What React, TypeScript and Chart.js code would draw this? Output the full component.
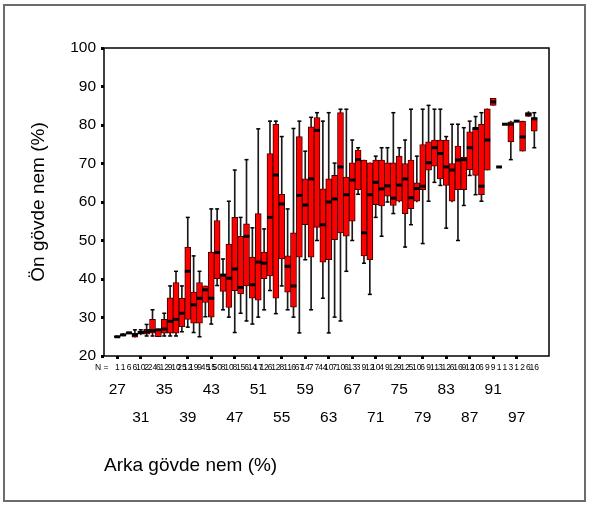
import React, { useEffect, useRef } from 'react';
import { Chart, registerables } from 'chart.js';

Chart.register(...registerables);

// Category values (Arka gövde nem %)
const categories = [
  27, 28, 29, 30, 31, 32, 33, 34, 35, 36, 37, 38, 39, 40, 41, 42, 43, 44, 45, 46,
  47, 48, 49, 50, 51, 52, 53, 54, 55, 56, 57, 58, 59, 60, 61, 62, 63, 64, 65, 66,
  67, 68, 69, 70, 71, 72, 73, 74, 75, 76, 77, 78, 79, 80, 81, 82, 83, 84, 85, 86,
  87, 88, 89, 90, 91, 92, 93, 95, 97, 98, 99, 100,
];

// Group sizes (N = ...)
const nCounts = [
  1, 1, 6, 6, 10, 2, 24, 6, 12, 9,
  10, 25, 12, 19, 9, 45, 15, 50, 8, 10,
  8, 15, 6, 14, 17, 12, 6, 12, 8, 11,
  6, 67, 14, 7, 7, 44, 10, 7, 10, 6,
  13, 3, 9, 12, 10, 4, 9, 12, 9, 12,
  5, 10, 6, 9, 11, 3, 12, 6, 16, 9,
  12, 10, 6, 9, 9, 1, 1, 3, 1, 2, 6, 16,
];

// Box plot statistics (Ön gövde nem %)
const mins = [
  24.8, 25.2, 25.8, 24.9, 25.5, 25.2, 25.2, 25.0, 25.2, 25.2,
  25.2, 26.3, 27.5, 26.1, 25.0, 30.2, 28.3, 38.3, 32.0, 30.1,
  26.1, 31.1, 29.1, 28.3, 30.1, 32.0, 37.0, 31.0, 38.2, 32.0,
  30.1, 26.0, 45.0, 32.0, 50.0, 35.0, 26.0, 30.1, 29.1, 42.0,
  50.0, 62.0, 44.1, 36.0, 56.0, 51.1, 60.0, 57.0, 60.0, 48.3,
  54.1, 60.0, 49.2, 60.2, 65.1, 64.3, 53.2, 60.0, 50.0, 59.1,
  66.9, 61.9, 60.2, 68.3, 85.1, 69.1, 80.2, 71.0, 81.0, 73.2, 82.2, 74.1,
];
const q1s = [
  24.9, 25.2, 25.9, 24.9, 25.7, 25.7, 25.9, 25.0, 25.9, 25.9,
  25.9, 27.6, 29.5, 28.5, 28.5, 33.9, 30.1, 40.1, 36.8, 32.6,
  37.0, 36.1, 38.2, 35.0, 34.5, 40.1, 40.8, 35.0, 45.2, 36.6,
  32.7, 45.7, 54.1, 45.7, 53.4, 44.4, 45.0, 50.2, 52.0, 51.1,
  55.0, 63.2, 46.0, 45.0, 59.3, 59.0, 61.5, 59.1, 60.2, 57.0,
  58.3, 60.2, 63.2, 68.3, 69.3, 66.0, 64.3, 60.2, 63.2, 63.2,
  68.4, 66.9, 61.9, 68.3, 85.1, 69.1, 80.2, 75.6, 81.0, 73.2, 82.2, 78.4,
];
const medians = [
  25.0, 25.5, 26.0, 25.5, 26.1, 26.3, 26.6, 26.8, 27.0, 29.0,
  29.5, 31.1, 42.0, 33.3, 35.0, 37.2, 35.0, 46.9, 41.0, 40.2,
  42.6, 37.8, 51.1, 38.5, 44.4, 44.1, 56.0, 67.0, 59.5, 43.3,
  38.2, 61.7, 59.2, 66.0, 78.6, 54.1, 60.0, 60.8, 69.1, 61.9,
  65.7, 71.0, 52.0, 61.9, 65.1, 63.4, 64.2, 61.0, 64.4, 66.0,
  61.1, 63.5, 64.1, 70.2, 74.1, 72.6, 69.1, 68.3, 70.9, 71.0,
  74.1, 79.1, 64.1, 76.1, 86.0, 69.1, 80.2, 80.2, 81.0, 76.9, 82.8, 81.6,
];
const q3s = [
  25.1, 25.7, 26.2, 25.9, 26.4, 26.9, 29.5, 26.9, 29.5, 35.1,
  39.1, 35.0, 48.3, 36.6, 39.1, 38.2, 47.0, 55.2, 41.3, 49.1,
  56.0, 51.1, 54.3, 45.7, 57.0, 47.0, 72.6, 80.2, 62.0, 46.0,
  52.0, 77.0, 66.0, 79.5, 81.9, 63.4, 66.0, 66.9, 83.2, 66.5,
  70.2, 73.5, 70.9, 70.2, 70.9, 70.9, 70.2, 70.2, 71.9, 70.0,
  70.9, 65.0, 74.9, 75.6, 76.1, 76.1, 76.1, 70.0, 74.5, 71.7,
  78.2, 79.3, 80.2, 84.2, 86.9, 69.1, 80.2, 80.8, 81.0, 81.0, 83.2, 81.9,
];
const maxs = [
  25.2, 25.8, 26.2, 26.8, 26.8, 28.2, 32.0, 27.0, 31.1, 38.2,
  42.0, 38.2, 56.0, 46.0, 42.0, 38.2, 58.2, 58.2, 45.2, 60.2,
  68.3, 56.0, 71.0, 53.3, 79.0, 53.0, 81.0, 81.0, 77.0, 58.2,
  79.1, 81.0, 73.2, 82.0, 83.2, 81.0, 83.2, 70.1, 84.1, 84.1,
  76.1, 74.1, 70.9, 70.2, 71.9, 74.1, 74.1, 83.2, 74.1, 76.1,
  84.1, 71.9, 84.1, 85.1, 84.1, 84.1, 77.0, 80.2, 80.2, 79.3,
  81.0, 82.2, 83.2, 84.2, 86.9, 69.1, 80.2, 81.0, 81.0, 81.0, 83.5, 83.2,
];

const yTickValues = [20, 30, 40, 50, 60, 70, 80, 90, 100];
const labelEvery = 4;

const FONT = '"Liberation Sans", Arial, Helvetica, sans-serif';
const X_MIN = -2.26;
const X_MAX = 73.5;

export default function App() {
  const canvasRef = useRef<HTMLCanvasElement | null>(null);

  useEffect(() => {
    const canvas = canvasRef.current;
    if (!canvas) return;
    const idx = categories.map((_, i) => i);

    const plotFrame = {
      id: 'plotFrame',
      beforeDatasetsDraw(chart: any) {
        const { ctx, chartArea: a } = chart;
        ctx.save();
        ctx.strokeStyle = '#000';
        ctx.lineWidth = 1.5;
        ctx.strokeRect(a.left, a.top, a.right - a.left, a.bottom - a.top);
        ctx.restore();
      },
    };

    Chart.defaults.font.family = FONT;
    Chart.defaults.color = '#000';

    const chart = new Chart(canvas, {
      type: 'bar',
      data: {
        datasets: [
          {
            type: 'bar',
            label: 'whisker',
            stack: 'box',
            data: idx.map((i) => ({ x: i, y: [mins[i], maxs[i]] })) as any,
            backgroundColor: '#1a1a1a',
            borderWidth: 0,
            barThickness: 1,
            order: 4,
          } as any,
          {
            type: 'bar',
            label: 'box',
            stack: 'box',
            data: idx.map((i) => ({ x: i, y: [q1s[i], q3s[i]] })) as any,
            backgroundColor: '#ff0000',
            borderColor: '#400000',
            borderWidth: 1,
            borderSkipped: false,
            barThickness: 6,
            order: 3,
          } as any,
          {
            type: 'line',
            label: 'max',
            data: idx.map((i) => ({ x: i, y: maxs[i] > q3s[i] + 0.3 ? maxs[i] : null })),
            showLine: false,
            pointStyle: 'line',
            pointRadius: 2,
            pointHoverRadius: 2,
            pointBorderWidth: 1.5,
            pointBorderColor: '#000',
            order: 2,
          } as any,
          {
            type: 'line',
            label: 'min',
            data: idx.map((i) => ({ x: i, y: mins[i] < q1s[i] - 0.3 ? mins[i] : null })),
            showLine: false,
            pointStyle: 'line',
            pointRadius: 2,
            pointHoverRadius: 2,
            pointBorderWidth: 1.5,
            pointBorderColor: '#000',
            order: 2,
          } as any,
          {
            type: 'line',
            label: 'median',
            data: idx.map((i) => ({ x: i, y: medians[i] })),
            showLine: false,
            pointStyle: 'line',
            pointRadius: 2.9,
            pointHoverRadius: 2.9,
            pointBorderWidth: 3,
            pointBorderColor: '#000',
            order: 1,
          } as any,
        ],
      },
      options: {
        responsive: false,
        animation: false,
        devicePixelRatio: 1,
        layout: { padding: { top: 48, right: 40, left: 0, bottom: 27 } },
        plugins: {
          legend: { display: false },
          tooltip: { enabled: false },
        },
        scales: {
          x: {
            type: 'linear',
            position: 'bottom',
            min: X_MIN,
            max: X_MAX,
            offset: false,
            bounds: 'data',
            stacked: true,
            weight: 0,
            border: { display: false },
            grid: {
              offset: false,
              drawOnChartArea: false,
              tickLength: 3,
              tickWidth: 3,
              tickColor: (ctx: any) =>
                ctx.tick && ctx.tick.value >= 0 && ctx.tick.value % labelEvery === 0 ? '#000' : 'rgba(0,0,0,0)',
            },
            afterBuildTicks: (scale: any) => {
              scale.ticks = [{ value: X_MIN }, ...idx.map((i) => ({ value: i }))];
            },
            ticks: {
              autoSkip: false,
              maxRotation: 0,
              minRotation: 0,
              padding: 4,
              font: { size: 8.5, family: FONT },
              color: '#000',
              callback: (v: any) => (v < 0 ? 'N =  ' : String(nCounts[v])),
            },
            afterFit: (scale: any) => {
              scale.height = 17;
            },
          },
          x2: {
            type: 'linear',
            position: 'bottom',
            min: X_MIN,
            max: X_MAX,
            offset: false,
            bounds: 'data',
            weight: 1,
            border: { display: false },
            grid: { display: false, offset: false },
            afterBuildTicks: (scale: any) => {
              scale.ticks = idx.filter((i) => i % labelEvery === 0).map((i) => ({ value: i }));
            },
            ticks: {
              autoSkip: false,
              maxRotation: 0,
              minRotation: 0,
              padding: -5,
              font: { size: 15.5, family: FONT, lineHeight: 28 / 15.5 },
              color: '#000',
              callback: (v: any) => {
                const lab = String(categories[v]);
                return (v / labelEvery) % 2 === 0 ? [lab, ''] : ['', lab];
              },
            },
            title: {
              display: true,
              text: 'Arka gövde nem (%)',
              align: 'start',
              color: '#000',
              font: { size: 19, family: FONT },
              padding: { top: 0, bottom: 2 },
            },
            afterFit: (scale: any) => {
              scale.height = 106;
            },
          },
          y: {
            type: 'linear',
            min: 20,
            max: 100,
            stacked: false,
            border: { display: false },
            grid: {
              drawOnChartArea: false,
              tickLength: 3,
              tickWidth: 3,
              tickColor: '#000',
            },
            afterBuildTicks: (scale: any) => {
              scale.ticks = yTickValues.map((v) => ({ value: v }));
            },
            ticks: {
              padding: 5,
              font: { size: 15.5, family: FONT },
              color: '#000',
            },
            title: {
              display: true,
              text: 'Ön gövde nem (%)',
              color: '#000',
              font: { size: 19, family: FONT },
              padding: { top: 27, bottom: 0 },
            },
            afterFit: (scale: any) => {
              scale.width = 104;
            },
          },
        },
      } as any,
      plugins: [plotFrame],
    });

    return () => {
      chart.destroy();
    };
  }, []);

  return (
    <div style={{ position: 'fixed', left: 0, top: 0, width: 589, height: 506, background: '#fff' }}>
      <div
        style={{
          position: 'absolute',
          left: 3,
          top: 4,
          width: 583,
          height: 498,
          boxSizing: 'border-box',
          border: '2px solid #6c6c6c',
        }}
      />
      <canvas
        ref={canvasRef}
        width={589}
        height={506}
        style={{ position: 'absolute', left: 0, top: 0, width: 589, height: 506 }}
      />
    </div>
  );
}
